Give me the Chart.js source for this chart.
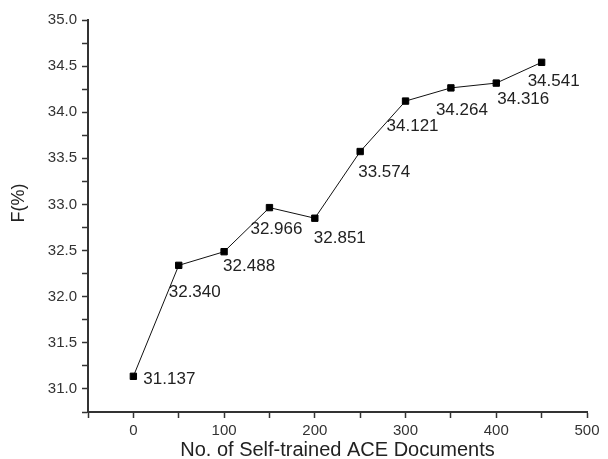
<!DOCTYPE html>
<html>
<head>
<meta charset="utf-8">
<script src="https://cdn.jsdelivr.net/npm/chart.js@4/dist/chart.umd.min.js"></script>
<style>
  html, body { margin: 0; padding: 0; background: #fff; }
  #wrap { width: 608px; height: 459px; }
</style>
</head>
<body>
<div id="wrap"><canvas id="fChart" width="608" height="459"></canvas></div>
<script>
// documents added vs F score
const docs = [0, 50, 100, 150, 200, 250, 300, 350, 400, 450];
const fScore = [31.137, 32.340, 32.488, 32.966, 32.851, 33.574, 34.121, 34.264, 34.316, 34.541];
const valueLabels = ["31.137", "32.340", "32.488", "32.966", "32.851", "33.574", "34.121", "34.264", "34.316", "34.541"];
const yTitle = "F(%)";

// where each value label sits relative to its point (px)
const labelDx = [36, 16, 25, 7, 25, 24, 7, 11, 27, 12];
const labelDy = [3, 27, 15, 22, 20, 21, 25, 22, 16, 19];

const valueLabelPlugin = {
  id: "valueLabels",
  afterDatasetsDraw(chart) {
    const ctx = chart.ctx;
    const meta = chart.getDatasetMeta(0);
    ctx.save();
    ctx.font = "17px Arial, 'Liberation Sans', sans-serif";
    ctx.fillStyle = "#222";
    ctx.textAlign = "center";
    ctx.textBaseline = "middle";
    meta.data.forEach((pt, i) => {
      ctx.fillText(valueLabels[i], pt.x + labelDx[i], pt.y + labelDy[i]);
    });
    // y axis title, sits a bit above the middle like the original
    ctx.translate(19, 203);
    ctx.rotate(-Math.PI / 2);
    ctx.font = "18px Arial, 'Liberation Sans', sans-serif";
    ctx.fillText(yTitle, 0, 0);
    ctx.restore();
  },
};

const ctx = document.getElementById("fChart").getContext("2d");
new Chart(ctx, {
  type: "line",
  data: {
    datasets: [
      {
        data: docs.map((d, i) => ({ x: d, y: fScore[i] })),
        borderColor: "#111",
        borderWidth: 1,
        pointStyle: "rect",
        pointRadius: 4.5,
        pointBackgroundColor: "#000",
        pointBorderColor: "#000",
        tension: 0,
      },
    ],
  },
  options: {
    responsive: false,
    animation: false,
    layout: { padding: { top: 20, right: 21, left: 0, bottom: 0 } },
    plugins: {
      legend: { display: false },
      tooltip: { enabled: false },
    },
    scales: {
      x: {
        type: "linear",
        min: -50,
        max: 500,
        afterFit: (s) => { s.height = 47; },
        border: { display: true, color: "#333", width: 2 },
        grid: { display: true, drawOnChartArea: false, tickLength: 6, color: "#333", tickWidth: 1.5 },
        ticks: {
          stepSize: 50,
          padding: 4,
          color: "#333",
          font: { family: "Arial, 'Liberation Sans', sans-serif", size: 15 },
          maxRotation: 0,
          autoSkip: false,
          callback: (v) => (v >= 0 && v % 100 === 0 ? String(v) : ""),
        },
        title: {
          display: true,
          text: "No. of Self-trained ACE Documents",
          color: "#222",
          font: { family: "Arial, 'Liberation Sans', sans-serif", size: 20 },
          padding: { top: 0, bottom: -3 },
        },
      },
      y: {
        type: "linear",
        min: 30.75,
        max: 35.0,
        afterFit: (s) => { s.width = 88; },
        border: { display: true, color: "#333", width: 2 },
        grid: { display: true, drawOnChartArea: false, tickLength: 6, color: "#333", tickWidth: 1.5 },
        ticks: {
          stepSize: 0.25,
          padding: 5,
          color: "#333",
          font: { family: "Arial, 'Liberation Sans', sans-serif", size: 15 },
          autoSkip: false,
          callback: (v) => (Math.abs(v * 2 - Math.round(v * 2)) < 1e-6 ? v.toFixed(1) : ""),
        },
        title: { display: false },
      },
    },
  },
  plugins: [valueLabelPlugin],
});
</script>
</body>
</html>
